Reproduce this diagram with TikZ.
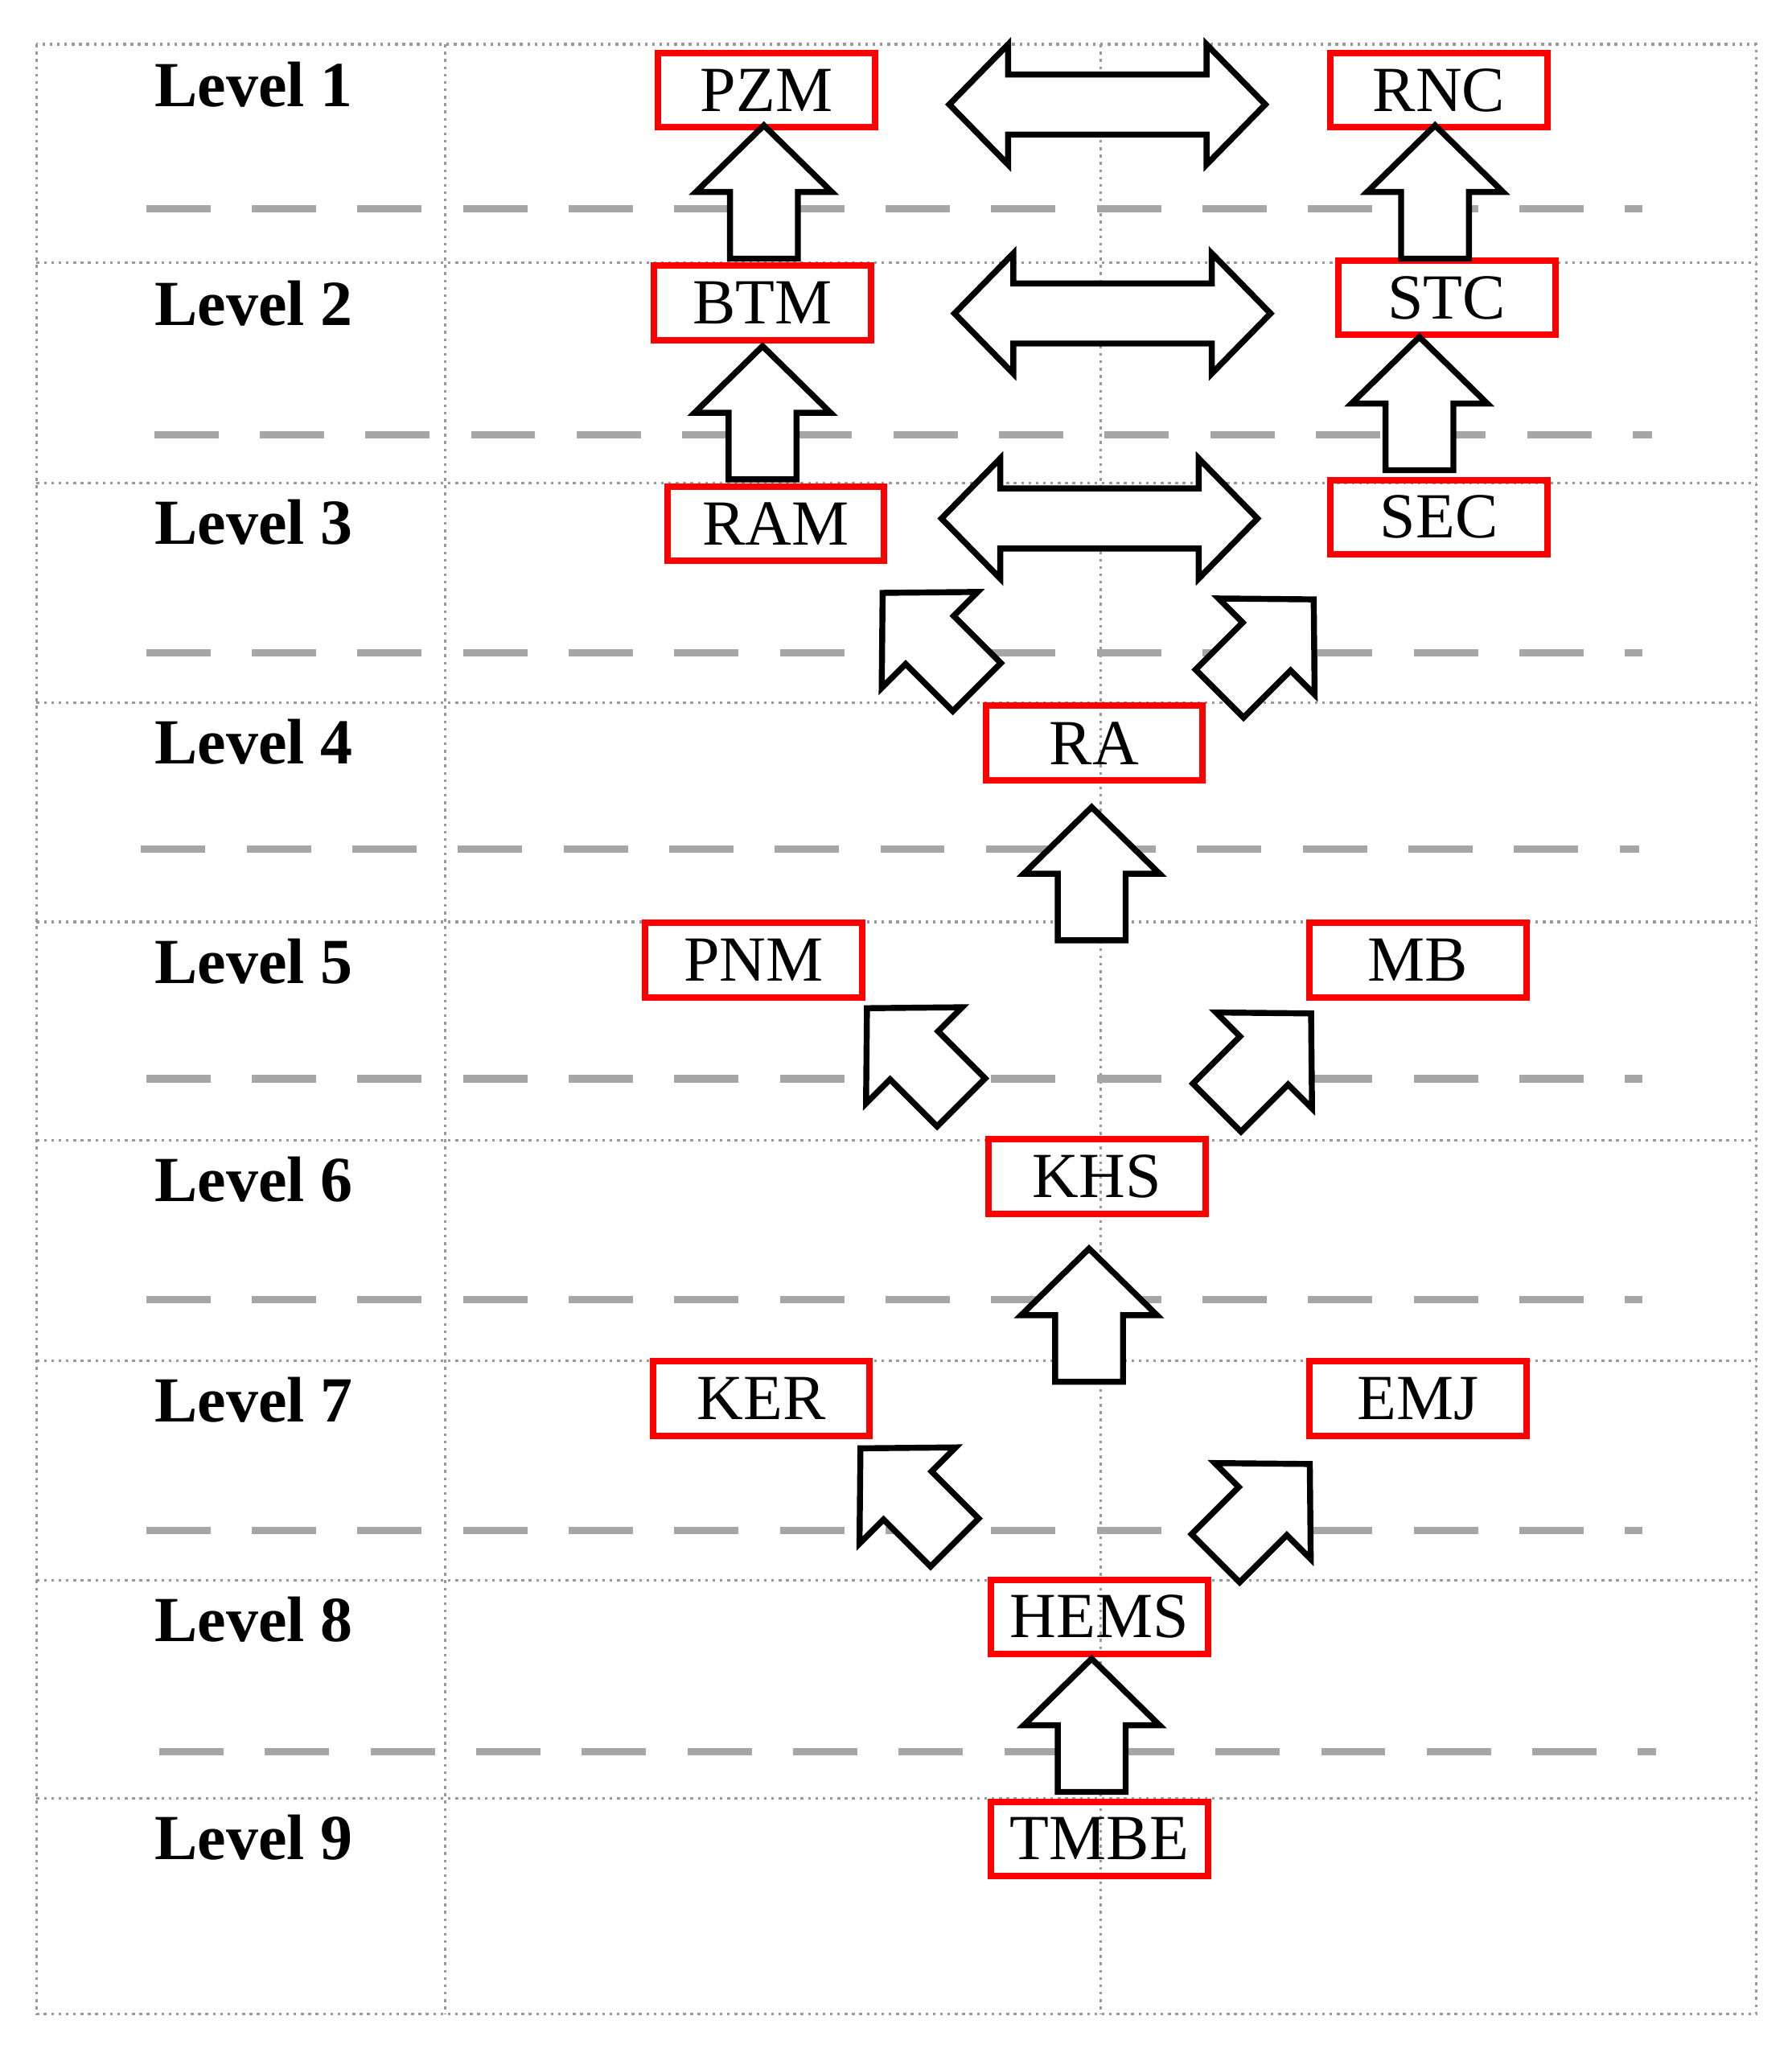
\documentclass[tikz,border=0pt]{standalone}
\usepackage{fontspec}
\setmainfont{Liberation Serif}
\begin{document}
\begin{tikzpicture}[x=0.01cm,y=0.01cm,
  grid/.style={gray!80,densely dotted,line width=0.6pt},
  sep/.style={gray!70,line width=1.6pt,dash pattern=on 14pt off 9pt},
  box/.style={draw=red,line width=1.4pt,minimum width=1.66cm,minimum height=0.57cm,inner sep=0pt,font=\fontsize{14}{16}\selectfont},
  lvl/.style={anchor=west,font=\fontsize{14}{16}\selectfont\bfseries},
  arr/.style={draw=black,line width=1.3pt,fill=white,line join=miter}]
\useasboundingbox (0,0) rectangle (1372,-1575);
% grid
\draw[grid] (28,-34) rectangle (1345,-1542);
\draw[grid] (341,-34) -- (341,-1542);
\draw[grid] (843,-34) -- (843,-1542);
\foreach \y in {201,370,538,706,873,1042,1210,1377} \draw[grid] (28,-\y) -- (1345,-\y);
% dashed
\draw[sep] (112,-160) -- (1258,-160);
\draw[sep] (118,-333) -- (1265,-333);
\draw[sep] (112,-500) -- (1258,-500);
\draw[sep] (108,-650) -- (1255,-650);
\draw[sep] (112,-826) -- (1258,-826);
\draw[sep] (112,-995) -- (1258,-995);
\draw[sep] (112,-1172) -- (1258,-1172);
\draw[sep] (122,-1341) -- (1268,-1341);
% levels
\foreach \n/\y in {1/65,2/232,3/400,4/568,5/736,6/903,7/1072,8/1240,9/1407}
  \node[lvl] (L\n) at (106,-\y) {Level \n};
% boxes
\node[box] (PZM) at (587,-69) {PZM};
\node[box] (RNC) at (1102,-69) {RNC};
\node[box] (BTM) at (584,-232) {BTM};
\node[box] (STC) at (1108,-228) {STC};
\node[box] (RAM) at (594,-401) {RAM};
\node[box] (SEC) at (1102,-396) {SEC};
\node[box] (RA) at (838,-569) {RA};
\node[box] (PNM) at (577,-735) {PNM};
\node[box] (MB) at (1086,-735) {MB};
\node[box] (KHS) at (840,-901) {KHS};
\node[box] (KER) at (583,-1071) {KER};
\node[box] (EMJ) at (1086,-1071) {EMJ};
\node[box] (HEMS) at (842,-1238) {HEMS};
\node[box] (TMBE) at (842,-1408) {TMBE};
% block arrows
\newcommand\blkup[3]{\draw[arr,shift={(#1,-#2)},rotate=#3] (-26,-51)--(-26,0)--(-52,0)--(0,51)--(52,0)--(26,0)--(26,-51)--cycle;}
\newcommand\blkdbl[3]{\draw[arr,shift={(0,-#3)}] (#1,0)--(#1+45,46)--(#1+45,23)--(#2-45,23)--(#2-45,46)--(#2,0)--(#2-45,-46)--(#2-45,-23)--(#1+45,-23)--(#1+45,-46)--cycle;}
\blkup{585}{147}{0}
\blkup{1099}{147}{0}
\blkup{584}{316}{0}
\blkup{1087}{309}{0}
\blkup{836}{669}{0}
\blkup{834}{1007}{0}
\blkup{836}{1321}{0}
\blkup{712}{490}{45}
\blkup{970}{495}{-45}
\blkup{700}{808}{45}
\blkup{968}{812}{-45}
\blkup{695}{1145}{45}
\blkup{967}{1157}{-45}
\blkdbl{727}{969}{80}
\blkdbl{731}{973}{240}
\blkdbl{721}{963}{397}
\end{tikzpicture}
\end{document}
